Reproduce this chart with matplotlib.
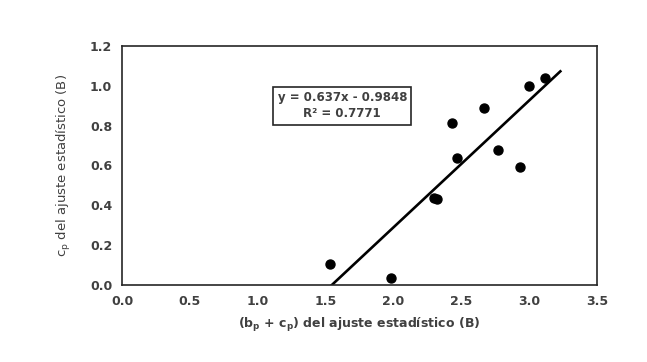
import numpy as np
import matplotlib.pyplot as plt

plt.rcParams['font.family'] = ['DejaVu Sans']
plt.rcParams['mathtext.fontset'] = 'dejavusans'

# data
bp_cp = [1.53, 1.98, 2.30, 2.32, 2.43, 2.47, 2.67, 2.77, 2.93, 3.00, 3.12]
cp = [0.104, 0.034, 0.438, 0.432, 0.812, 0.639, 0.890, 0.678, 0.591, 0.999, 1.037]

slope = 0.637
intercept = -0.9848
r2 = 0.7771
x_ticks = [0.0, 0.5, 1.0, 1.5, 2.0, 2.5, 3.0, 3.5]
y_ticks = [0.0, 0.2, 0.4, 0.6, 0.8, 1.0, 1.2]

gray = '#404040'

fig = plt.figure(figsize=(6.47, 3.62), dpi=100)
ax = fig.add_axes([0.1886, 0.2127, 0.7341, 0.6603])

ax.scatter(bp_cp, cp, s=42, color='black', zorder=3)

# linear trendline, clipped by the axis at y = 0
xl = np.array([1.5, 3.23])
ax.plot(xl, slope * xl + intercept, color='black', lw=1.9, zorder=2)

ax.set_xlim(0, 3.5)
ax.set_ylim(0, 1.2)
ax.set_xticks(x_ticks)
ax.set_yticks(y_ticks)
ax.set_xticklabels([f'{v:.1f}' for v in x_ticks])
ax.set_yticklabels([f'{v:.1f}' for v in y_ticks])
ax.tick_params(length=0, pad=7, labelsize=9, colors=gray)
for lab in ax.get_xticklabels() + ax.get_yticklabels():
    lab.set_fontweight('bold')
for sp in ax.spines.values():
    sp.set_color('#262626')
    sp.set_linewidth(1.2)

ax.set_xlabel(r'(b$_\mathbf{p}$ + c$_\mathbf{p}$) del ajuste estadístico (B)',
              fontsize=9, fontweight='bold', color=gray, labelpad=6)
ax.set_ylabel(r'c$_\mathregular{p}$ del ajuste estadístico (B)',
              fontsize=9.5, color=gray, labelpad=12)

ax.text(1.623, 0.90, f'y = {slope}x - {abs(intercept)}\nR² = {r2}',
        ha='center', va='center', fontsize=8.5, fontweight='bold', color=gray,
        linespacing=1.35,
        bbox=dict(boxstyle='square,pad=0.35', fc='white', ec='#262626', lw=1.2))

fig.savefig('out.png', dpi=100)
